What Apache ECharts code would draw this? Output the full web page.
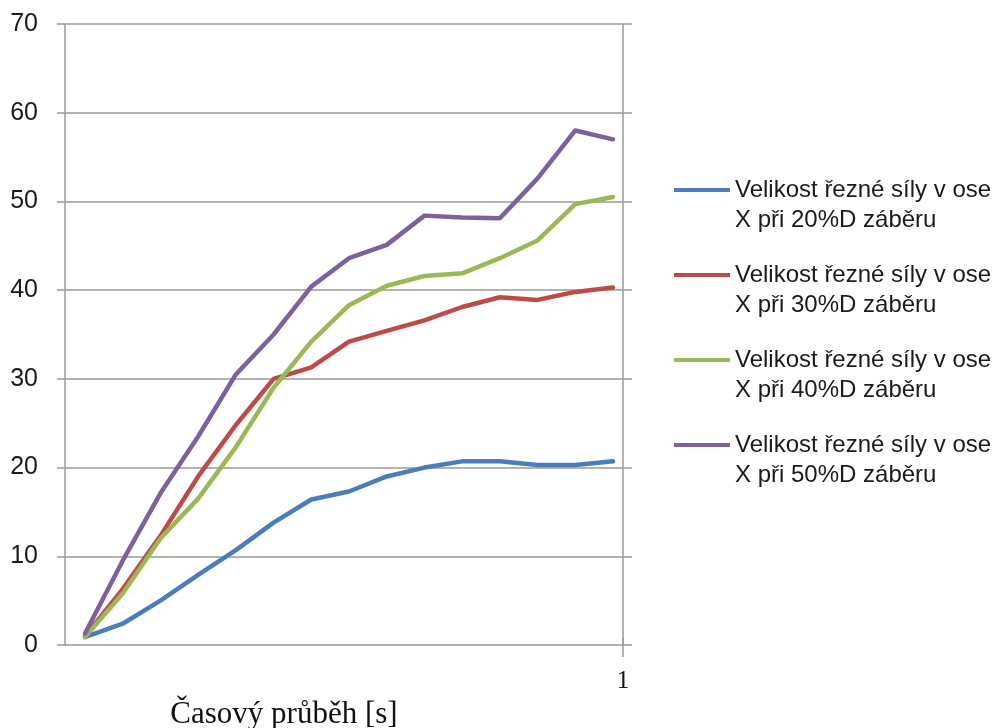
<!DOCTYPE html>
<html>
<head>
<meta charset="utf-8">
<script src="https://cdn.jsdelivr.net/npm/echarts@6/dist/echarts.min.js"></script>
<style>
  html, body { margin: 0; padding: 0; background: #fff; }
  #chart { width: 1005px; height: 728px; }
</style>
</head>
<body>
<div id="chart"></div>
<script>
// Measurement steps along the time axis
const timeSteps = [1, 2, 3, 4, 5, 6, 7, 8, 9, 10, 11, 12, 13, 14, 15];

// Cutting force in the X axis for each engagement (% of D)
const force20 = [0.9, 2.4, 5.0, 7.9, 10.7, 13.8, 16.4, 17.3, 19.0, 20.0, 20.7, 20.7, 20.3, 20.3, 20.7];
const force30 = [1.0, 6.3, 12.3, 19.0, 24.8, 30.0, 31.3, 34.2, 35.4, 36.6, 38.1, 39.2, 38.9, 39.8, 40.3];
const force40 = [0.9, 5.8, 12.0, 16.5, 22.3, 29.0, 34.2, 38.3, 40.5, 41.6, 41.9, 43.6, 45.6, 49.7, 50.5];
const force50 = [1.3, 9.5, 17.1, 23.5, 30.5, 35.0, 40.4, 43.6, 45.1, 48.4, 48.2, 48.1, 52.6, 58.0, 57.0];

const seriesNames = [
  'Velikost řezné síly v ose\nX při 20%D záběru',
  'Velikost řezné síly v ose\nX při 30%D záběru',
  'Velikost řezné síly v ose\nX při 40%D záběru',
  'Velikost řezné síly v ose\nX při 50%D záběru'
];
const seriesColors = ['#4a7ebb', '#be4b48', '#98b954', '#7d60a0'];

// Y axis ticks
const yMin = 0, yMax = 70, yStep = 10;
// Time axis range (steps), and the single time label at the right edge
const tMin = 0.47, tMax = 15.265;
const timeTickLabel = '1';

const axisGray = '#9a9a9a';

const chart = echarts.init(document.getElementById('chart'));

const seriesData = [force20, force30, force40, force50];

chart.setOption({
  animation: false,
  backgroundColor: '#ffffff',
  grid: {
    left: 65, right: 382, top: 24, bottom: 83,
    containLabel: false,
    outerBoundsMode: 'none'
  },
  legend: {
    orient: 'vertical',
    left: 674,
    top: 145,
    padding: 0,
    itemWidth: 56,
    itemHeight: 4,
    itemGap: -5,
    itemTextGap: 7,
    icon: 'rect',
    // an empty first line keeps the key line level with the first text line
    formatter: name => '\n' + name,
    textStyle: {
      fontFamily: 'Liberation Sans',
      fontSize: 24,
      color: '#1a1a1a',
      lineHeight: 30
    },
    data: seriesNames
  },
  xAxis: [
    {
      type: 'value',
      position: 'bottom',
      min: 0,
      max: 1,
      axisLine: { show: false },
      splitLine: { show: false },
      axisTick: {
        show: true,
        customValues: [1],
        length: 12,
        lineStyle: { color: axisGray, width: 1.5 }
      },
      axisLabel: {
        show: true,
        customValues: [1],
        formatter: () => timeTickLabel,
        margin: 24,
        fontFamily: 'Liberation Serif',
        fontSize: 25,
        color: '#111'
      },
      name: 'Časový průběh [s]',
      nameLocation: 'middle',
      nameGap: 47,
      nameTextStyle: {
        fontFamily: 'Liberation Serif',
        fontSize: 31,
        color: '#111',
        padding: [0, 120, 0, 0]
      }
    },
    {
      type: 'value',
      position: 'top',
      min: tMin,
      max: tMax,
      axisLine: { show: false },
      splitLine: { show: false },
      axisLabel: { show: false },
      axisTick: {
        show: true,
        customValues: [tMax],
        length: 7,
        lineStyle: { color: axisGray, width: 1.5 }
      }
    }
  ],
  yAxis: [
    {
      type: 'value',
      position: 'left',
      min: yMin, max: yMax, interval: yStep,
      axisLine: { show: true, lineStyle: { color: axisGray, width: 1.5 } },
      axisTick: { show: true, length: 8, lineStyle: { color: axisGray, width: 1.5 } },
      splitLine: { show: true, lineStyle: { color: axisGray, width: 1.5 } },
      axisLabel: {
        margin: 27,
        fontFamily: 'Liberation Sans',
        fontSize: 25,
        color: '#1a1a1a'
      }
    },
    {
      type: 'value',
      position: 'right',
      min: yMin, max: yMax, interval: yStep,
      axisLine: { show: true, lineStyle: { color: axisGray, width: 1.5 } },
      axisTick: { show: true, length: 9, lineStyle: { color: axisGray, width: 1.5 } },
      splitLine: { show: false },
      axisLabel: { show: false }
    }
  ],
  series: seriesData.map((values, k) => ({
    name: seriesNames[k],
    type: 'line',
    xAxisIndex: 1,
    yAxisIndex: 0,
    data: values.map((v, i) => [timeSteps[i], v]),
    showSymbol: false,
    symbol: 'none',
    color: seriesColors[k],
    lineStyle: { width: 4.5, color: seriesColors[k], join: 'round', cap: 'round' },
    itemStyle: { color: seriesColors[k] }
  }))
});
</script>
</body>
</html>
